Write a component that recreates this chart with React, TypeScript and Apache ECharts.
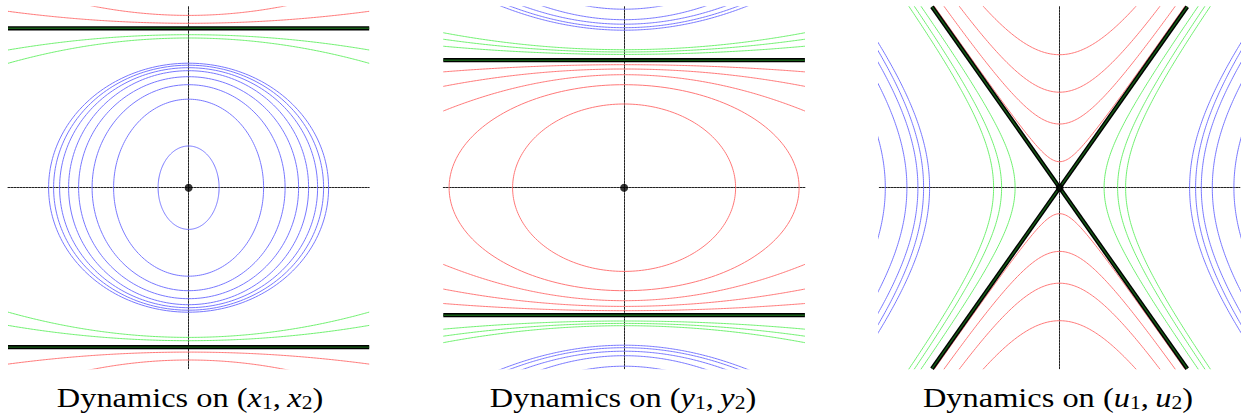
import React, { useEffect, useRef } from 'react';
import * as echarts from 'echarts';

// ---------- Panel 1: (x1, x2) ----------
const p1BlueA = [1.40, 1.35, 1.29, 1.20, 1.10, 0.965, 0.75, 0.305];
const p1BlueB = [1.245, 1.225, 1.20, 1.17, 1.11, 1.03, 0.885, 0.417];
const p1Separatrix = 1.594;
const p1GreenCenter = [1.53, 1.497];
const p1GreenRefX = [1.806, 1.806];
const p1GreenRefY = [1.377, 1.244];
const p1RedCenter = [1.644, 1.723];
const p1RedRefX = [1.806, 0.925];
const p1RedRefY = [1.764, 1.81];

// ---------- Panel 2: (y1, y2) ----------
const p2RedA = [1.115, 1.75];
const p2RedB = [0.837, 1.03];
const p2Separatrix = 1.275;
const p2RedOpenCenter = [1.13, 1.187, 1.23];
const p2RedOpenRefX = [1.81, 1.81, 1.81];
const p2RedOpenRefY = [0.766, 1.013, 1.158];
const p2GreenCenter = [1.333, 1.357, 1.38];
const p2GreenRefX = [1.81, 1.81, 1.81];
const p2GreenRefY = [1.415, 1.485, 1.55];
const p2BlueCenter = [1.575, 1.60, 1.635, 1.68, 1.785];
const p2BlueRefX = [1.216, 1.126, 0.993, 0.793, 0.326];
const p2BlueRefY = [1.81, 1.81, 1.81, 1.81, 1.81];

// ---------- Panel 3: (u1, u2) ----------
const p3SepSlope = 1.418;
const p3RedVertex = [0.26, 0.637, 0.955, 1.33];
const p3RedRefX = [1.25, 1.153, 1.0, 0.76];
const p3RedRefY = [1.81, 1.81, 1.81, 1.81];
const p3GreenVertex = [0.445, 0.58, 0.66];
const p3GreenRefX = [1.383, 1.45, 1.505];
const p3GreenRefY = [1.81, 1.81, 1.81];
const p3BlueVertex = [1.30, 1.36, 1.417, 1.527, 1.743];
const p3BlueRefX = [1.80, 1.80, 1.80, 1.80, 1.80];
const p3BlueRefY = [1.427, 1.343, 1.227, 1.01, 0.443];

const titles = ['x', 'y', 'u'];

const XR = [1.806, 1.808, 1.803];
const YR = 1.81;

const BLUE = '#7878ff';
const RED = '#ff7878';
const GREEN = '#70f070';

type Pt = [number, number];
const N = 240;

function ellipse(A: number, B: number): Pt[] {
  const pts: Pt[] = [];
  for (let i = 0; i <= N; i++) {
    const t = (2 * Math.PI * i) / N;
    pts.push([A * Math.cos(t), B * Math.sin(t)]);
  }
  return pts;
}

function openCurve(c0: number, xr: number, yr: number, xmax: number, sign: number): Pt[] {
  const pts: Pt[] = [];
  for (let i = 0; i <= N; i++) {
    const x = -xmax + (2 * xmax * i) / N;
    pts.push([x, sign * (c0 + (yr - c0) * (x / xr) * (x / xr))]);
  }
  return pts;
}

function vHyper(v: number, xr: number, yr: number, xmax: number, sign: number): Pt[] {
  const s2 = (yr * yr - v * v) / (xr * xr);
  const pts: Pt[] = [];
  for (let i = 0; i <= N; i++) {
    const x = -xmax + (2 * xmax * i) / N;
    pts.push([x, sign * Math.sqrt(v * v + s2 * x * x)]);
  }
  return pts;
}

function hHyper(a: number, xr: number, yr: number, ymax: number, sign: number): Pt[] {
  const k = (xr * xr - a * a) / (yr * yr);
  const pts: Pt[] = [];
  for (let i = 0; i <= N; i++) {
    const y = -ymax + (2 * ymax * i) / N;
    pts.push([sign * Math.sqrt(a * a + k * y * y), y]);
  }
  return pts;
}

function lineSeries(g: number, data: Pt[], color: string, width: number, z = 2) {
  return {
    type: 'line',
    xAxisIndex: g,
    yAxisIndex: g,
    data,
    showSymbol: false,
    symbol: 'none',
    clip: true,
    silent: true,
    z,
    lineStyle: { color, width },
  };
}

function separatrix(g: number, data: Pt[]) {
  return [lineSeries(g, data, '#000000', 4.2, 5), lineSeries(g, data, '#165c16', 1.4, 6)];
}

export default function App() {
  const ref = useRef<HTMLDivElement>(null);
  useEffect(() => {
    if (!ref.current) return;
    const chart = echarts.init(ref.current, undefined, { renderer: 'svg' });
    const series: any[] = [];

    // Panel 1
    p1BlueA.forEach((A, i) => series.push(lineSeries(0, ellipse(A, p1BlueB[i]), BLUE, 1)));
    p1GreenCenter.forEach((c, i) => {
      [1, -1].forEach((s) => series.push(lineSeries(0, openCurve(c, p1GreenRefX[i], p1GreenRefY[i], XR[0], s), GREEN, 1)));
    });
    p1RedCenter.forEach((c, i) => {
      [1, -1].forEach((s) => series.push(lineSeries(0, openCurve(c, p1RedRefX[i], p1RedRefY[i], XR[0], s), RED, 1)));
    });
    [1, -1].forEach((s) => series.push(...separatrix(0, [[-XR[0], s * p1Separatrix], [XR[0], s * p1Separatrix]])));

    // Panel 2
    p2RedA.forEach((A, i) => series.push(lineSeries(1, ellipse(A, p2RedB[i]), RED, 1)));
    p2RedOpenCenter.forEach((c, i) => {
      [1, -1].forEach((s) => series.push(lineSeries(1, openCurve(c, p2RedOpenRefX[i], p2RedOpenRefY[i], XR[1], s), RED, 1)));
    });
    p2GreenCenter.forEach((c, i) => {
      [1, -1].forEach((s) => series.push(lineSeries(1, openCurve(c, p2GreenRefX[i], p2GreenRefY[i], XR[1], s), GREEN, 1)));
    });
    p2BlueCenter.forEach((c, i) => {
      [1, -1].forEach((s) => series.push(lineSeries(1, openCurve(c, p2BlueRefX[i], p2BlueRefY[i], XR[1], s), BLUE, 1)));
    });
    [1, -1].forEach((s) => series.push(...separatrix(1, [[-XR[1], s * p2Separatrix], [XR[1], s * p2Separatrix]])));

    // Panel 3
    p3RedVertex.forEach((v, i) => {
      [1, -1].forEach((s) => series.push(lineSeries(2, vHyper(v, p3RedRefX[i], p3RedRefY[i], XR[2], s), RED, 1)));
    });
    p3GreenVertex.forEach((a, i) => {
      [1, -1].forEach((s) => series.push(lineSeries(2, hHyper(a, p3GreenRefX[i], p3GreenRefY[i], 2.2, s), GREEN, 1)));
    });
    p3BlueVertex.forEach((a, i) => {
      [1, -1].forEach((s) => series.push(lineSeries(2, hHyper(a, p3BlueRefX[i], p3BlueRefY[i], 2.2, s), BLUE, 1)));
    });
    [1, -1].forEach((s) =>
      series.push(...separatrix(2, [[-YR / p3SepSlope, -s * YR], [YR / p3SepSlope, s * YR]]))
    );

    // Equilibrium dots
    [0, 1, 2].forEach((g) =>
      series.push({
        type: 'scatter',
        xAxisIndex: g,
        yAxisIndex: g,
        data: [[0, 0]],
        symbol: 'circle',
        symbolSize: 8,
        silent: true,
        z: 10,
        itemStyle: { color: '#000000' },
      })
    );

    const lefts = [8, 443.3, 879.3];
    const widths = [361.2, 361.6, 360.6];
    const grid = lefts.map((l, i) => ({ left: l, top: 6.7, width: widths[i], height: 362 }));
    const axisCommon = {
      type: 'value',
      axisTick: { show: false },
      axisLabel: { show: false },
      splitLine: { show: false },
      axisLine: { show: true, onZero: true, lineStyle: { color: '#222', width: 1, type: [2, 1] } },
    };
    const xAxis = [0, 1, 2].map((g) => ({ ...axisCommon, gridIndex: g, min: -XR[g], max: XR[g] }));
    const yAxis = [0, 1, 2].map((g) => ({ ...axisCommon, gridIndex: g, min: -YR, max: YR }));

    const FONT = 'Liberation Serif';
    const centers = [190, 623, 1058];
    const graphic = centers.map((cx, i) => ({
      type: 'text',
      x: cx,
      y: 397,
      scaleX: 1.2,
      style: {
        text: `{r|Dynamics on (}{i|${titles[i]}}{s|1}{r|,\u2009}{i|${titles[i]}}{s|2}{r|)}`,
        align: 'center',
        verticalAlign: 'middle',
        rich: {
          r: { fontFamily: FONT, fontSize: 27, lineHeight: 29, fill: '#000' },
          i: { fontFamily: FONT, fontStyle: 'italic', fontSize: 27, lineHeight: 29, fill: '#000' },
          s: { fontFamily: FONT, fontSize: 18, lineHeight: 16, verticalAlign: 'bottom', fill: '#000' },
        },
      },
    }));

    chart.setOption({
      animation: false,
      backgroundColor: '#ffffff',
      grid,
      xAxis,
      yAxis,
      series,
      graphic,
    });
    return () => chart.dispose();
  }, []);
  return <div ref={ref} style={{ position: 'fixed', left: 0, top: 0, width: 1252, height: 419 }} />;
}
